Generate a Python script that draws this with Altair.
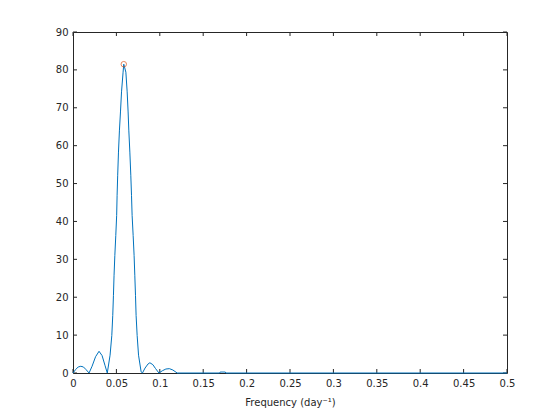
import altair as alt
import pandas as pd

# Periodogram values
freq = [0.000, 0.003, 0.006, 0.009, 0.012, 0.015, 0.0185,
        0.022, 0.026, 0.030, 0.0335, 0.037, 0.0395,
        0.0427, 0.0447, 0.0458, 0.0466, 0.0473, 0.0482, 0.0493, 0.0503, 0.0508,
        0.0515, 0.0524, 0.0535, 0.0547, 0.0559, 0.0577, 0.0585,
        0.0609, 0.0624, 0.0635, 0.0643, 0.0655, 0.0666, 0.0674, 0.0681, 0.0693,
        0.0704, 0.0712, 0.0720, 0.0727, 0.0739, 0.0755, 0.0785, 0.0800,
        0.083, 0.0865, 0.0886, 0.092, 0.095, 0.099,
        0.103, 0.107, 0.111, 0.115, 0.120,
        0.169, 0.1695, 0.1755, 0.176, 0.500]
power = [0.0, 0.9, 1.6, 1.77, 1.6, 0.9, 0.0,
         1.8, 4.3, 5.73, 4.6, 1.9, 0.0,
         4.7, 9.9, 15.2, 20.5, 25.8, 31.0, 36.3, 41.6, 46.9,
         52.2, 58.3, 64.1, 68.9, 74.2, 79.4, 81.5,
         79.4, 74.2, 68.9, 64.1, 58.3, 52.2, 46.9, 41.6, 36.3,
         31.0, 25.8, 20.5, 15.2, 9.9, 4.7, 0.3, 0.0,
         1.3, 2.4, 2.7, 2.2, 1.2, 0.0,
         0.6, 1.05, 1.15, 0.8, 0.0,
         0.0, 0.25, 0.25, 0.0, 0.0]

peak_freq = [0.0585]
peak_power = [81.5]

x_ticks = [0, 0.05, 0.1, 0.15, 0.2, 0.25, 0.3, 0.35, 0.4, 0.45, 0.5]
y_ticks = [0, 10, 20, 30, 40, 50, 60, 70, 80, 90]

W, H = 434, 341
TL = 4
AX = "#262626"

df = pd.DataFrame({"f": freq, "p": power})
peak = pd.DataFrame({"f": peak_freq, "p": peak_power})
xt = pd.DataFrame({"f": x_ticks})
yt = pd.DataFrame({"p": y_ticks})

xs = alt.Scale(domain=[0, 0.5], nice=False, zero=False)
ys = alt.Scale(domain=[0, 90], nice=False, zero=False)
xax = alt.Axis(values=x_ticks, format=".2~f", title="Frequency (day⁻¹)",
               labelPadding=5, titlePadding=9, labelFlush=False, labelOverlap=False)
yax = alt.Axis(values=y_ticks, title=None, labelPadding=5, labelFlush=False,
               labelOverlap=False)

X = alt.X("f:Q", scale=xs, axis=xax)
Y = alt.Y("p:Q", scale=ys, axis=yax)

line = alt.Chart(df).mark_line(color="#0072BD", strokeWidth=1, clip=False).encode(x=X, y=Y)
pt = alt.Chart(peak).mark_point(shape="circle", size=30, filled=False,
                                color="#D95319", strokeWidth=1).encode(x=X, y=Y)

bt = alt.Chart(xt).mark_rule(color=AX, strokeWidth=1).encode(
    x=X, y=alt.value(H), y2=alt.value(H - TL))
tt = alt.Chart(xt).mark_rule(color=AX, strokeWidth=1).encode(
    x=X, y=alt.value(0), y2=alt.value(TL))
lt = alt.Chart(yt).mark_rule(color=AX, strokeWidth=1).encode(
    y=Y, x=alt.value(0), x2=alt.value(TL))
rt = alt.Chart(yt).mark_rule(color=AX, strokeWidth=1).encode(
    y=Y, x=alt.value(W), x2=alt.value(W - TL))

chart = alt.layer(bt, tt, lt, rt, line, pt).properties(
    width=W, height=H,
    autosize=alt.AutoSizeParams(type="none"),
    padding={"left": 65, "top": 24, "right": 10, "bottom": 40},
    background="white",
).configure_view(stroke=AX, strokeWidth=1).configure_axis(
    domain=False, ticks=False, grid=False,
    labelFont="DejaVu Sans", labelFontSize=10, labelColor=AX,
    titleFont="DejaVu Sans", titleFontSize=10, titleColor=AX, titleFontWeight="normal",
)

chart.save("out.html", embed_options={"renderer": "svg", "actions": False})
